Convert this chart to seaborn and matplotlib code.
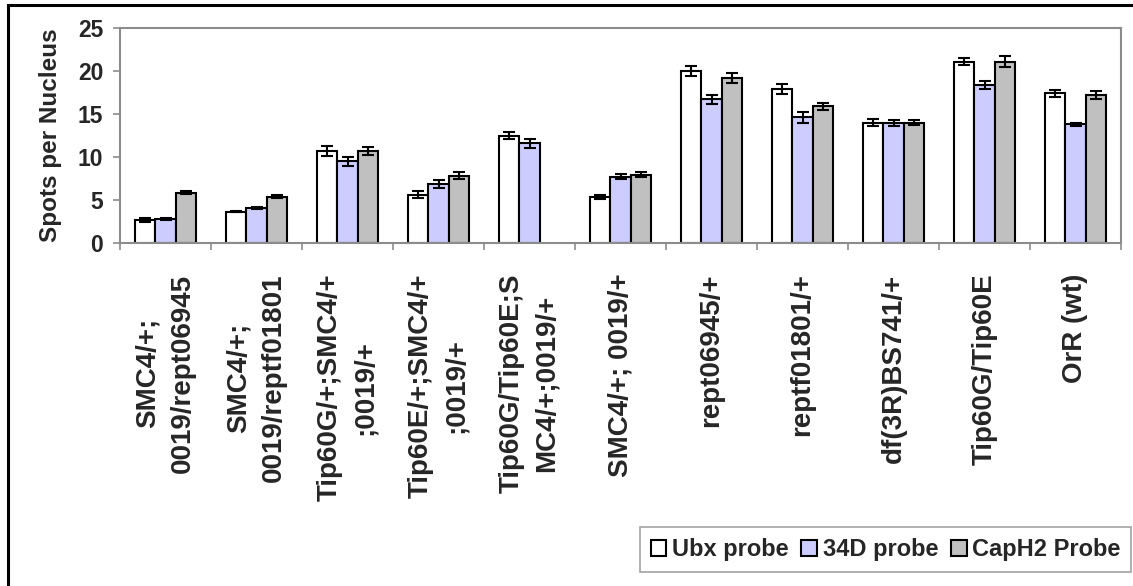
import numpy as np
import pandas as pd
import matplotlib
matplotlib.use("Agg")
import matplotlib.pyplot as plt
from matplotlib.patches import Rectangle
from matplotlib.ticker import FixedLocator
import seaborn as sns

genotypes = [
    "SMC4/+;\n0019/rept06945",
    "SMC4/+;\n0019/reptf01801",
    "Tip60G/+;SMC4/+\n;0019/+",
    "Tip60E/+;SMC4/+\n;0019/+",
    "Tip60G/Tip60E;S\nMC4/+;0019/+",
    "SMC4/+; 0019/+",
    "rept06945/+",
    "reptf01801/+",
    "df(3R)BS741/+",
    "Tip60G/Tip60E",
    "OrR (wt)",
]
probes = ["Ubx probe", "34D probe", "CapH2 Probe"]

ubx = [2.65, 3.65, 10.7, 5.6, 12.5, 5.35, 20.0, 17.9, 14.0, 21.1, 17.4]
d34 = [2.8, 4.05, 9.5, 6.9, 11.6, 7.7, 16.7, 14.6, 14.0, 18.4, 13.8]
caph2 = [5.85, 5.4, 10.7, 7.8, np.nan, 7.95, 19.2, 15.9, 14.0, 21.1, 17.2]

ubx_err = [0.2, 0.1, 0.6, 0.4, 0.45, 0.2, 0.6, 0.6, 0.4, 0.45, 0.4]
d34_err = [0.1, 0.1, 0.5, 0.45, 0.5, 0.3, 0.5, 0.6, 0.35, 0.45, 0.15]
caph2_err = [0.2, 0.2, 0.5, 0.4, np.nan, 0.25, 0.6, 0.4, 0.25, 0.6, 0.45]

colors = {"Ubx probe": "#FFFFFF", "34D probe": "#CCCCFF", "CapH2 Probe": "#C0C0C0"}

values = {"Ubx probe": ubx, "34D probe": d34, "CapH2 Probe": caph2}
errors = {"Ubx probe": ubx_err, "34D probe": d34_err, "CapH2 Probe": caph2_err}

rows = []
for p in probes:
    for g, v in zip(genotypes, values[p]):
        rows.append({"genotype": g, "probe": p, "value": v})
df = pd.DataFrame(rows)

sns.set_style("white")
plt.rcParams["font.family"] = ["Liberation Sans", "DejaVu Sans"]
plt.rcParams["font.weight"] = "bold"

W, H = 1133, 586
fig = plt.figure(figsize=(W / 100, H / 100), dpi=100)
fig.patch.set_facecolor("white")
ax = fig.add_axes([120 / W, 1 - 243 / H, (1121 - 120) / W, (243 - 28) / H])

sns.barplot(data=df, x="genotype", y="value", hue="probe", order=genotypes,
            hue_order=probes, palette=colors, width=0.68, gap=0,
            edgecolor="black", linewidth=1.5, errorbar=None, ax=ax,
            legend=True, saturation=1)

# error bars using bar positions from the drawn bars
for p, cont in zip(probes, ax.containers):
    err = errors[p]
    for bar in cont:
        h = bar.get_height()
        if not np.isfinite(h) or h == 0:
            continue
        cx = bar.get_x() + bar.get_width() / 2
        idx = int(round(cx))
        e = err[idx]
        if np.isfinite(e):
            ax.errorbar(cx, h, yerr=e, fmt="none", ecolor="black",
                        elinewidth=1.5, capsize=4.3, capthick=1.5, zorder=5)

ax.set_ylim(0, 25)
ax.set_yticks([0, 5, 10, 15, 20, 25])
ax.set_xlim(-0.5, len(genotypes) - 0.5)
gray = "#8c8c8c"
for s in ax.spines.values():
    s.set_color(gray)
    s.set_linewidth(1.5)

ax.tick_params(axis="y", which="major", direction="out", length=5, width=1.2,
               color=gray, labelsize=16.5, pad=7, left=True)
for t in ax.get_yticklabels():
    t.set_fontweight("bold")

ax.set_xticks(range(len(genotypes)))
ax.set_xticklabels(genotypes, rotation=90, fontsize=20, fontweight="bold",
                   ha="center", va="top", multialignment="center",
                   linespacing=1.45)
ax.tick_params(axis="x", which="major", length=0, pad=22, bottom=True)
ax.xaxis.set_minor_locator(FixedLocator(np.arange(-0.5, len(genotypes), 1.0)))
ax.tick_params(axis="x", which="minor", direction="out", length=5, width=1.2,
               color=gray, bottom=True)

ax.set_xlabel("")
ax.set_ylabel("Spots per Nucleus", fontsize=17.5, fontweight="bold")
ax.yaxis.set_label_coords(-0.058, 0.5)

leg = ax.get_legend()
handles, labels = ax.get_legend_handles_labels()
if leg is not None:
    leg.remove()
for h in handles:
    h.set_edgecolor("black")
    h.set_linewidth(1.5)
fleg = fig.legend(handles, labels, loc="center left",
                  bbox_to_anchor=(640 / W, 1 - 549.5 / H), ncol=3,
                  frameon=True, fancybox=False, edgecolor=gray,
                  prop={"size": 17, "weight": "bold"},
                  handlelength=0.65, handleheight=0.65, handletextpad=0.25,
                  columnspacing=0.55, borderpad=0.45, borderaxespad=0)
fleg.get_frame().set_linewidth(1.2)

# outer chart border (extends beyond the image on right and bottom)
fig.patches.append(Rectangle((8 / W, -0.05), 1.1, 1 - 5 / H + 0.05,
                             transform=fig.transFigure, fill=False,
                             edgecolor="black", linewidth=2.2))

fig.savefig("out.png", dpi=100, facecolor="white")
